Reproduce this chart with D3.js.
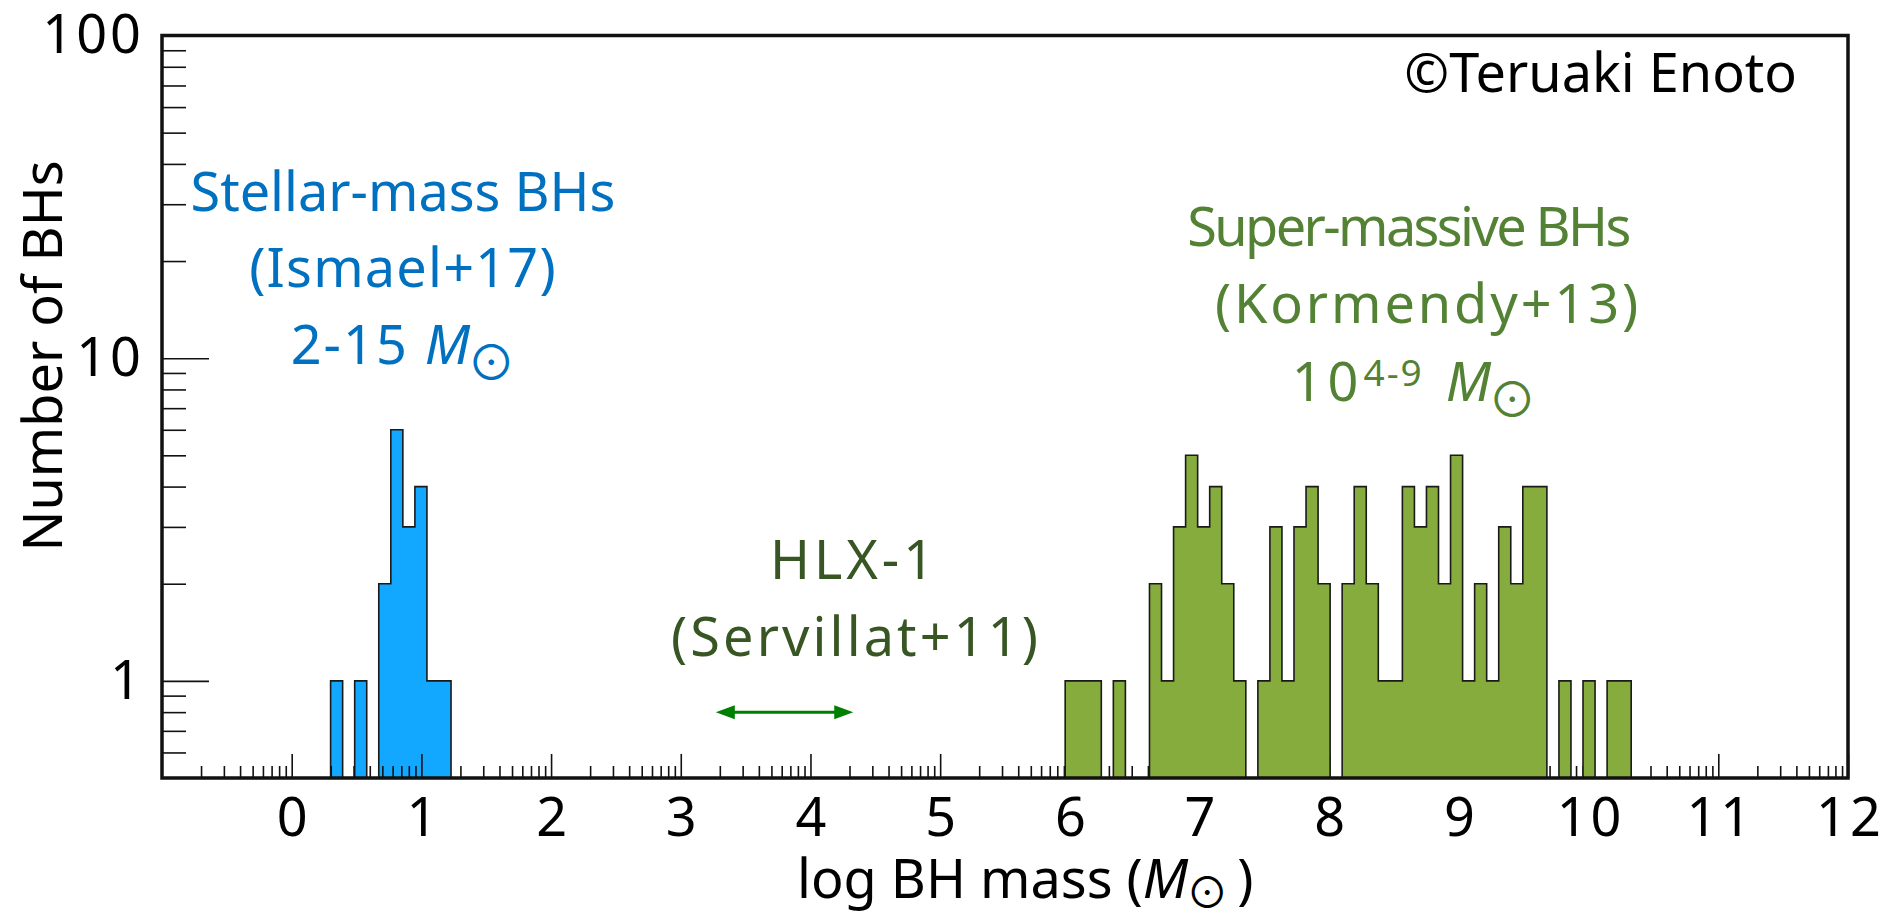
<!DOCTYPE html>
<html>
<head>
<meta charset="utf-8">
<script src="https://cdn.jsdelivr.net/npm/d3@7"></script>
<style>
  html, body { margin: 0; padding: 0; background: #fff; }
  svg { display: block; }
  text { font-family: "Noto Sans", "Open Sans", sans-serif; }
  .sun { font-family: "Noto Sans CJK JP", "DejaVu Sans", sans-serif; }
</style>
</head>
<body>
<svg id="chart" width="1893" height="915"></svg>
<script>
// ---------------- data ----------------
// histogram bins in log10(M / Msun); common bin width
const binWidth = 13 / 140;
// Stellar-mass BHs (Ismael+17)
const stellarFirstEdge = 0.30;
const stellarCounts = [1, 0, 1, 0, 2, 6, 3, 4, 1, 1];
// Super-massive BHs (Kormendy+13)
const smbhFirstEdge = 5.964;
const smbhCounts = [1, 1, 1, 0, 1, 0, 0, 2, 1, 3, 5, 3, 4, 2, 1, 0, 1, 3, 1, 3,
                    4, 2, 0, 2, 4, 2, 1, 1, 4, 3, 4, 2, 5, 1, 2, 1, 3, 2, 4, 4,
                    0, 1, 0, 1, 0, 1, 1];
// HLX-1 (Servillat+11) mass range, drawn as a double arrow
const hlxRange = [3.27, 4.33];
const hlxLevel = 0.8;
// axes
const xTickValues = [0, 1, 2, 3, 4, 5, 6, 7, 8, 9, 10, 11, 12];
const yTickValues = [1, 10, 100];
const yTickLabels = ["1", "10", "100"];

// ---------------- layout ----------------
const svg = d3.select("#chart");
const pL = 162, pR = 1848, pT = 35.5, pB = 778;
const x = d3.scaleLinear().domain([-1, 12]).range([pL, pR]);
const y = d3.scaleLog().domain([0.5, 100]).range([pB, pT]);
const FS = 54;
const SUN_FS = 48, SUN_DY = 16;

function histPath(firstEdge, counts) {
  const p = d3.path();
  p.moveTo(x(firstEdge), y(0.5));
  counts.forEach((c, i) => {
    const a = firstEdge + i * binWidth, b = a + binWidth;
    const yy = c > 0 ? y(c) : y(0.5);
    p.lineTo(x(a), yy);
    p.lineTo(x(b), yy);
  });
  p.lineTo(x(firstEdge + counts.length * binWidth), y(0.5));
  p.closePath();
  return p.toString();
}

// stellar histogram (below axis ticks)
svg.append("path")
  .attr("d", histPath(stellarFirstEdge, stellarCounts))
  .attr("fill", "#12A8FF").attr("stroke", "#1a1a1a").attr("stroke-width", 1.6)
  .attr("stroke-linejoin", "miter");

// ---------------- axes ----------------
const xMinor = [];
for (let d = -1; d < 12; d++) for (let k = 2; k <= 9; k++) xMinor.push(d + Math.log10(k));
const xMinorAxis = d3.axisBottom(x).tickValues(xMinor).tickSize(-12).tickFormat("");
const gxm = svg.append("g").attr("transform", `translate(0,${pB})`).call(xMinorAxis);
gxm.select(".domain").remove();
gxm.selectAll("line").attr("stroke", "#111").attr("stroke-width", 1.6);

const xAxis = d3.axisBottom(x).tickValues(xTickValues).tickSize(-24).tickPadding(20)
  .tickFormat(d3.format("d"));
const gx = svg.append("g").attr("transform", `translate(0,${pB})`).call(xAxis);
gx.select(".domain").remove();
gx.selectAll("line").attr("stroke", "#111").attr("stroke-width", 1.6);
gx.selectAll("text").attr("font-size", FS).attr("fill", "#000")
  .attr("font-family", "Noto Sans").attr("letter-spacing", 3).attr("dx", 1.5);

const yMinor = [0.6, 0.7, 0.8, 0.9, 2, 3, 4, 5, 6, 7, 8, 9, 20, 30, 40, 50, 60, 70, 80, 90];
const yMinorAxis = d3.axisLeft(y).tickValues(yMinor).tickSize(-24).tickFormat("");
const gym = svg.append("g").attr("transform", `translate(${pL},0)`).call(yMinorAxis);
gym.select(".domain").remove();
gym.selectAll("line").attr("stroke", "#111").attr("stroke-width", 1.6);

const yAxis = d3.axisLeft(y).tickValues(yTickValues).tickSize(-47).tickPadding(18)
  .tickFormat((d, i) => yTickLabels[i]);
const gy = svg.append("g").attr("transform", `translate(${pL},0)`).call(yAxis);
gy.select(".domain").remove();
gy.selectAll("line").attr("stroke", "#111").attr("stroke-width", 1.6);
gy.selectAll("text").attr("font-size", FS).attr("fill", "#000")
  .attr("font-family", "Noto Sans").attr("letter-spacing", 3);

// super-massive histogram (covers ticks)
svg.append("path")
  .attr("d", histPath(smbhFirstEdge, smbhCounts))
  .attr("fill", "#86AC3E").attr("stroke", "#1a1a1a").attr("stroke-width", 1.6)
  .attr("stroke-linejoin", "miter");

// frame
svg.append("rect")
  .attr("x", pL).attr("y", pT).attr("width", pR - pL).attr("height", pB - pT)
  .attr("fill", "none").attr("stroke", "#111").attr("stroke-width", 3.5);

// axis titles
const xl = svg.append("text").attr("x", 797).attr("y", 898)
  .attr("font-size", FS).attr("fill", "#000");
xl.append("tspan").text("log BH mass (");
xl.append("tspan").attr("font-style", "italic").text("M");
xl.append("tspan").attr("class", "sun").attr("font-size", 42).attr("dy", 10).attr("dx", -2).text("\u2299");
xl.append("tspan").attr("dy", -10).attr("dx", -5).text(" )");

svg.append("text")
  .attr("transform", "translate(62,356) rotate(-90)")
  .attr("text-anchor", "middle").attr("font-size", FS).attr("fill", "#000")
  .text("Number of BHs");

// copyright
svg.append("text").attr("x", 1797).attr("y", 92).attr("text-anchor", "end")
  .attr("font-size", FS).attr("fill", "#000").text("\u00A9Teruaki Enoto");

// stellar annotation
const blue = "#0070C0";
const sx = 403;
svg.append("text").attr("x", sx).attr("y", 211).attr("text-anchor", "middle")
  .attr("font-size", FS).attr("fill", blue).text("Stellar-mass BHs");
svg.append("text").attr("x", sx).attr("y", 287).attr("text-anchor", "middle")
  .attr("font-size", FS).attr("fill", blue).attr("letter-spacing", 1.2).text("(Ismael+17)");
const s3 = svg.append("text").attr("x", sx).attr("y", 364).attr("text-anchor", "middle")
  .attr("font-size", FS).attr("fill", blue);
s3.append("tspan").attr("letter-spacing", 2).text("2-15 ");
s3.append("tspan").attr("font-style", "italic").text("M");
s3.append("tspan").attr("class", "sun").attr("font-size", SUN_FS).attr("dy", SUN_DY)
  .attr("dx", -3).text("\u2299");

// super-massive annotation
const green = "#548235";
svg.append("text").attr("x", 1408).attr("y", 246).attr("text-anchor", "middle")
  .attr("font-size", FS).attr("fill", green).attr("letter-spacing", -2.6).text("Super-massive BHs");
svg.append("text").attr("x", 1428).attr("y", 323).attr("text-anchor", "middle")
  .attr("font-size", FS).attr("fill", green).attr("letter-spacing", 2.9).text("(Kormendy+13)");
const g3 = svg.append("text").attr("x", 1414).attr("y", 401).attr("text-anchor", "middle")
  .attr("font-size", FS).attr("fill", green);
g3.append("tspan").attr("letter-spacing", 5).text("10");
g3.append("tspan").attr("font-size", 37).attr("dy", -15).attr("letter-spacing", 2).text("4-9");
g3.append("tspan").attr("dy", 15).attr("letter-spacing", 8).text(" ");
g3.append("tspan").attr("font-style", "italic").text("M");
g3.append("tspan").attr("class", "sun").attr("font-size", SUN_FS).attr("dy", SUN_DY)
  .attr("dx", -3).text("\u2299");

// HLX-1 annotation
const dark = "#375623";
svg.append("text").attr("x", 854).attr("y", 579).attr("text-anchor", "middle")
  .attr("font-size", FS).attr("fill", dark).attr("letter-spacing", 4).text("HLX-1");
svg.append("text").attr("x", 856).attr("y", 656).attr("text-anchor", "middle")
  .attr("font-size", FS).attr("fill", dark).attr("letter-spacing", 3.1).text("(Servillat+11)");

// double arrow
const arrowColor = "#008000";
const ay = y(hlxLevel), ax0 = x(hlxRange[0]), ax1 = x(hlxRange[1]);
const headL = 19, headW = 7;
svg.append("line").attr("x1", ax0 + headL - 2).attr("x2", ax1 - headL + 2)
  .attr("y1", ay).attr("y2", ay).attr("stroke", arrowColor).attr("stroke-width", 3);
svg.append("path").attr("fill", arrowColor)
  .attr("d", `M${ax0},${ay} L${ax0 + headL},${ay - headW} L${ax0 + headL},${ay + headW} Z`);
svg.append("path").attr("fill", arrowColor)
  .attr("d", `M${ax1},${ay} L${ax1 - headL},${ay - headW} L${ax1 - headL},${ay + headW} Z`);
</script>
</body>
</html>
